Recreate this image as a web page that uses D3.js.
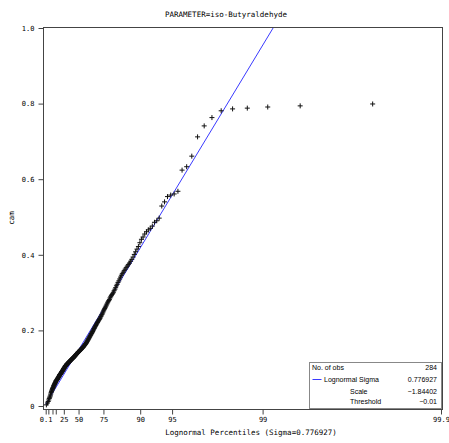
<!DOCTYPE html>
<html>
<head>
<meta charset="utf-8">
<script src="https://cdn.jsdelivr.net/npm/d3@7"></script>
<style>
  body { margin: 0; background: #fff; }
  svg text { font-family: "DejaVu Sans Mono", monospace; }
</style>
</head>
<body>
<div id="chart"></div>
<script>
const obs = [
  0.003,0.008,0.012,0.016,0.020,0.023,0.026,0.029,0.032,0.036,
  0.038,0.040,0.042,0.044,0.046,0.047,0.049,0.050,0.052,0.054,
  0.055,0.056,0.057,0.059,0.060,0.061,0.062,0.063,0.065,0.066,
  0.067,0.067,0.068,0.069,0.070,0.071,0.071,0.072,0.073,0.074,
  0.075,0.076,0.076,0.077,0.078,0.079,0.080,0.081,0.082,0.083,
  0.083,0.084,0.084,0.085,0.086,0.087,0.087,0.088,0.089,0.090,
  0.091,0.091,0.092,0.093,0.094,0.094,0.095,0.096,0.097,0.098,
  0.099,0.099,0.100,0.101,0.102,0.102,0.103,0.104,0.105,0.106,
  0.106,0.107,0.107,0.108,0.109,0.109,0.110,0.111,0.111,0.112,
  0.112,0.113,0.113,0.114,0.114,0.115,0.115,0.116,0.116,0.117,
  0.117,0.118,0.118,0.119,0.120,0.120,0.121,0.121,0.122,0.123,
  0.123,0.124,0.124,0.125,0.125,0.126,0.126,0.127,0.127,0.128,
  0.128,0.129,0.130,0.130,0.131,0.132,0.132,0.133,0.134,0.135,
  0.135,0.136,0.137,0.137,0.138,0.139,0.139,0.140,0.141,0.142,
  0.142,0.143,0.144,0.144,0.145,0.146,0.146,0.147,0.148,0.149,
  0.149,0.150,0.151,0.151,0.152,0.153,0.154,0.154,0.155,0.156,
  0.157,0.158,0.159,0.160,0.161,0.162,0.163,0.164,0.165,0.166,
  0.168,0.169,0.171,0.172,0.174,0.175,0.177,0.178,0.180,0.182,
  0.183,0.185,0.187,0.188,0.190,0.192,0.193,0.195,0.197,0.199,
  0.201,0.203,0.205,0.207,0.209,0.211,0.213,0.215,0.217,0.219,
  0.221,0.223,0.225,0.227,0.229,0.231,0.233,0.236,0.238,0.241,
  0.243,0.246,0.249,0.252,0.255,0.258,0.261,0.264,0.267,0.270,
  0.273,0.276,0.279,0.282,0.286,0.289,0.292,0.295,0.298,0.301,
  0.305,0.309,0.313,0.318,0.322,0.327,0.331,0.336,0.341,0.346,
  0.350,0.354,0.358,0.362,0.366,0.370,0.374,0.378,0.383,0.388,
  0.394,0.401,0.408,0.415,0.422,0.432,0.441,0.447,0.455,0.461,
  0.466,0.470,0.476,0.486,0.490,0.497,0.529,0.540,0.554,0.558,
  0.561,0.568,0.624,0.633,0.661,0.712,0.741,0.763,0.781,0.786,
  0.788,0.791,0.794,0.799
];

// fitted lognormal parameters
const sigma = 0.776927;
const scaleParam = -1.84402;
const threshold = -0.01;

const pctTicks = [0.1, 1, 5, 10, 25, 50, 75, 90, 95, 99, 99.9];
const pctLabels = ["0.1", "", "", "", "25", "50", "75", "90", "95", "99", "99.9"];
const yTicks = [0, 0.2, 0.4, 0.6, 0.8, 1.0];

const legendRows = [
  ["No. of obs", "284"],
  ["Lognormal Sigma", "0.776927"],
  ["Scale", "\u22121.84402"],
  ["Threshold", "\u22120.01"]
];

// inverse normal cdf (Acklam)
function qnorm(p) {
  const a=[-39.69683028665376,220.9460984245205,-275.9285104469687,138.3577518672690,-30.66479806614716,2.506628277459239];
  const b=[-54.47609879822406,161.5858368580409,-155.6989798598866,66.80131188771972,-13.28068155288572];
  const c=[-0.007784894002430293,-0.3223964580411365,-2.400758277161838,-2.549732539343734,4.374664141464968,2.938163982698783];
  const d=[0.007784695709041462,0.3224671290700398,2.445134137142996,3.754408661907416];
  const pl = 0.02425;
  let q, r;
  if (p < pl) {
    q = Math.sqrt(-2*Math.log(p));
    return (((((c[0]*q+c[1])*q+c[2])*q+c[3])*q+c[4])*q+c[5]) / ((((d[0]*q+d[1])*q+d[2])*q+d[3])*q+1);
  } else if (p <= 1-pl) {
    q = p-0.5; r = q*q;
    return (((((a[0]*r+a[1])*r+a[2])*r+a[3])*r+a[4])*r+a[5])*q / (((((b[0]*r+b[1])*r+b[2])*r+b[3])*r+b[4])*r+1);
  } else {
    q = Math.sqrt(-2*Math.log(1-p));
    return -(((((c[0]*q+c[1])*q+c[2])*q+c[3])*q+c[4])*q+c[5]) / ((((d[0]*q+d[1])*q+d[2])*q+d[3])*q+1);
  }
}
// lognormal quantile with the fitted sigma
const lq = p => Math.exp(sigma * qnorm(p));

const width = 449, height = 443;
const frame = { left: 43, right: 443, top: 27, bottom: 409 };

const svg = d3.select("#chart").append("svg")
  .attr("width", width)
  .attr("height", height);

const x = d3.scaleLinear()
  .domain([lq(0.001), lq(0.999)])
  .range([45.7, 441]);

const y = d3.scaleLinear()
  .domain([0, 1])
  .range([406, 28]);

const n = obs.length;
const points = obs.map((v, i) => ({ q: lq((i + 1 - 0.375) / (n + 0.25)), v: v }));

// title
svg.append("text")
  .attr("x", 226).attr("y", 17)
  .attr("text-anchor", "middle")
  .style("font-size", "7.5px")
  .text("PARAMETER=iso-Butyraldehyde");

// clip for plot area
svg.append("clipPath").attr("id", "clip")
  .append("rect")
  .attr("x", frame.left).attr("y", frame.top)
  .attr("width", frame.right - frame.left).attr("height", frame.bottom - frame.top);

// fitted line
const qTop = (1 - threshold) / Math.exp(scaleParam);
const lineQ = [lq(0.001), qTop * 1.02];
svg.append("path")
  .attr("clip-path", "url(#clip)")
  .attr("d", d3.line()(lineQ.map(q => [x(q), y(threshold + Math.exp(scaleParam) * q)])))
  .attr("fill", "none")
  .attr("stroke", "#3a3aff")
  .attr("stroke-width", 1);

// points
svg.selectAll(".pt")
  .data(points)
  .enter()
  .append("path")
  .attr("class", "pt")
  .attr("transform", d => "translate(" + x(d.q) + "," + y(d.v) + ")")
  .attr("d", "M-2.5,0H2.5M0,-2.5V2.5")
  .attr("stroke", "#111")
  .attr("stroke-width", 1)
  .attr("fill", "none");

// frame
svg.append("rect")
  .attr("x", frame.left + 0.5).attr("y", frame.top + 0.5)
  .attr("width", frame.right - frame.left - 1).attr("height", frame.bottom - frame.top)
  .attr("fill", "none")
  .attr("stroke", "#444")
  .attr("stroke-width", 1);

// y axis
const yAxis = svg.append("g")
  .attr("transform", "translate(" + (frame.left + 0.5) + ",0)")
  .call(d3.axisLeft(y).tickValues(yTicks).tickSize(5).tickSizeOuter(0)
    .tickFormat(d => d === 0 ? "0" : d.toFixed(1)));
yAxis.select(".domain").remove();
yAxis.selectAll("line").attr("stroke", "#444");
yAxis.selectAll("text")
  .attr("x", -9)
  .style("font-family", "DejaVu Sans Mono, monospace")
  .style("font-size", "7px")
  .attr("fill", "#000");

// x axis
const xAxis = svg.append("g")
  .attr("transform", "translate(0," + (frame.bottom + 0.5) + ")")
  .call(d3.axisBottom(x).tickValues(pctTicks.map(p => lq(p / 100))).tickSize(5).tickSizeOuter(0)
    .tickFormat((d, i) => pctLabels[i]));
xAxis.select(".domain").remove();
xAxis.selectAll("line").attr("stroke", "#444");
xAxis.selectAll("text")
  .attr("y", 8)
  .style("font-family", "DejaVu Sans Mono, monospace")
  .style("font-size", "7px")
  .attr("fill", "#000");

// axis titles
svg.append("text")
  .attr("x", 251).attr("y", 435)
  .attr("text-anchor", "middle")
  .style("font-size", "7.5px")
  .text("Lognormal Percentiles (Sigma=" + sigma + ")");

svg.append("text")
  .attr("transform", "translate(14,218) rotate(-90)")
  .attr("text-anchor", "middle")
  .style("font-size", "7.5px")
  .text("cam");

// legend box
const lg = svg.append("g");
lg.append("rect")
  .attr("x", 309.5).attr("y", 362.5)
  .attr("width", 132).attr("height", 46)
  .attr("fill", "#fff")
  .attr("stroke", "#888");

const rowY = [370, 382, 393.5, 404];
legendRows.forEach((r, i) => {
  const lx = i === 0 ? 312 : (i === 1 ? 324 : 350);
  lg.append("text")
    .attr("x", lx).attr("y", rowY[i])
    .style("font-family", "Liberation Sans, Arial, sans-serif")
    .style("font-size", "7px")
    .text(r[0]);
  lg.append("text")
    .attr("x", 437).attr("y", rowY[i])
    .attr("text-anchor", "end")
    .style("font-family", "Liberation Sans, Arial, sans-serif")
    .style("font-size", "7px")
    .text(r[1]);
});
lg.append("line")
  .attr("x1", 312.5).attr("x2", 321.5)
  .attr("y1", 379.5).attr("y2", 379.5)
  .attr("stroke", "#3a3aff");
</script>
</body>
</html>
